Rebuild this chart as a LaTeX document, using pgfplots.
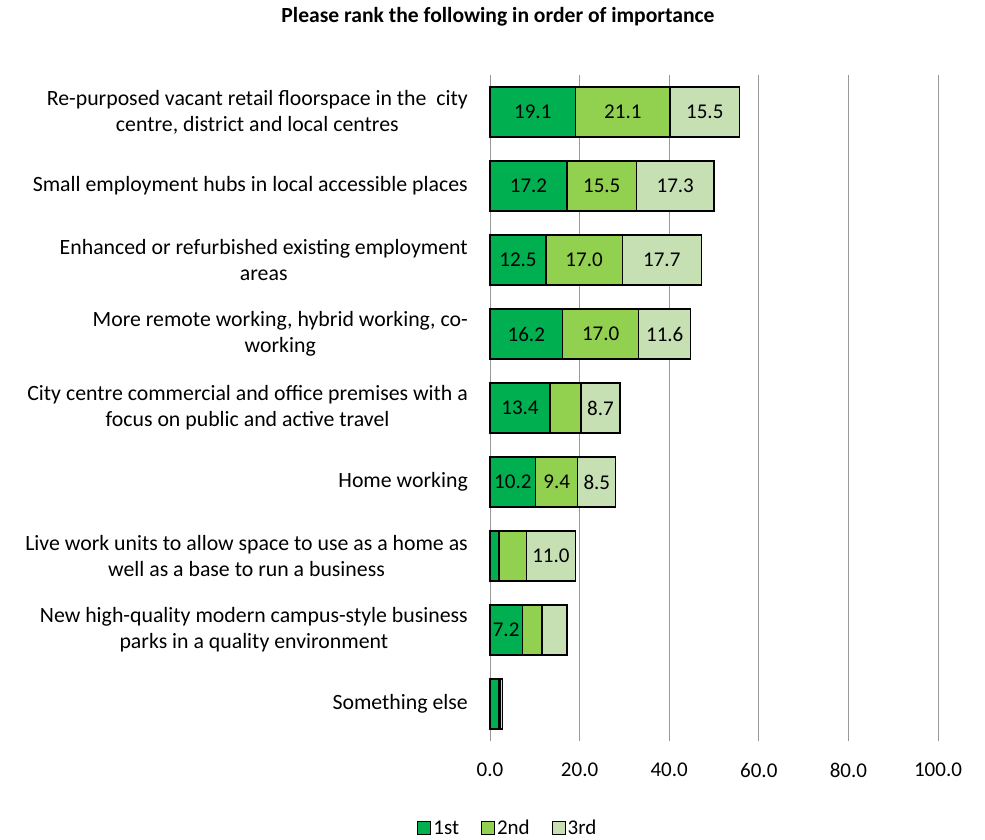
\documentclass[border=0pt]{standalone}
\usepackage{pgfplots}
\pgfplotsset{compat=1.18}
\usepackage{fontspec}
\setmainfont{Carlito}
\definecolor{c1}{HTML}{00B050}
\definecolor{c2}{HTML}{92D050}
\definecolor{c3}{HTML}{C6E0B4}
\newcommand{\chartfont}{\fontsize{21.8}{26}\selectfont}
\newcommand{\numfont}{\fontsize{21}{26}\selectfont}
\begin{document}
\begin{tikzpicture}
\useasboundingbox (0pt,0pt) rectangle (985pt,-839pt);
\node[font=\fontsize{21.6}{24}\selectfont\bfseries] at (498pt,-17pt) {Please rank the following in order of importance};
\begin{axis}[
  at={(490pt,-741pt)}, anchor=south west,
  scale only axis, width=448pt, height=666pt,
  xbar stacked, bar width=50pt,
  xmin=0, xmax=100, ymin=-0.5, ymax=8.5, y dir=reverse,
  xtick={0,20,...,100},
  xticklabel={\pgfmathprintnumber[fixed,fixed zerofill,precision=1]{\tick}},
  /pgf/number format/assume math mode=true,
  xmajorgrids, grid style={draw=gray!80, line width=1pt},
  axis line style={draw=none},
  major tick length=0pt,
  ytick={0,...,8},
  yticklabels={{Re-purposed vacant retail floorspace in the\ \ city\\centre, district and local centres},
    {Small employment hubs in local accessible places},
    {Enhanced or refurbished existing employment\\areas},
    {More remote working, hybrid working, co-\\working},
    {City centre commercial and office premises with a\\focus on public and active travel},
    {Home working},
    {Live work units to allow space to use as a home as\\well as a base to run a business},
    {New high-quality modern campus-style business\\parks in a quality environment},
    {Something else}},
  yticklabel style={align=center, font=\chartfont, inner sep=0pt, xshift=-22pt},
  xticklabel style={font=\numfont, inner sep=0pt, yshift=-22pt},
  visualization depends on={rawx \as \rawx},
  nodes near coords={\ifdim\rawx pt<7pt\relax\else\pgfmathprintnumber[fixed,fixed zerofill,precision=1]{\rawx}\fi},
  nodes near coords style={anchor=center, font=\numfont, text=black, inner sep=0pt},
  every axis plot/.append style={draw=black, line width=1.2pt},
  legend style={at={(0.04,-0.1306)}, anchor=center, legend columns=3, draw=none, font=\numfont,
    /tikz/every even column/.append style={column sep=20pt}},
  legend image code/.code={\draw[#1, line width=1pt] (0pt,-6.5pt) rectangle (13pt,6.5pt);},
  clip=false,
]
\addplot[fill=c1] coordinates {(19.1,0) (17.2,1) (12.5,2) (16.2,3) (13.4,4) (10.2,5) (2.0,6) (7.2,7) (2.0,8)};
\addplot[fill=c2] coordinates {(21.1,0) (15.5,1) (17.0,2) (17.0,3) (6.9,4) (9.4,5) (6.1,6) (4.4,7) (0.4,8)};
\addplot[fill=c3] coordinates {(15.5,0) (17.3,1) (17.7,2) (11.6,3) (8.7,4) (8.5,5) (11.0,6) (5.6,7) (0.4,8)};
\legend{1st,2nd,3rd}
\end{axis}
\end{tikzpicture}
\end{document}
